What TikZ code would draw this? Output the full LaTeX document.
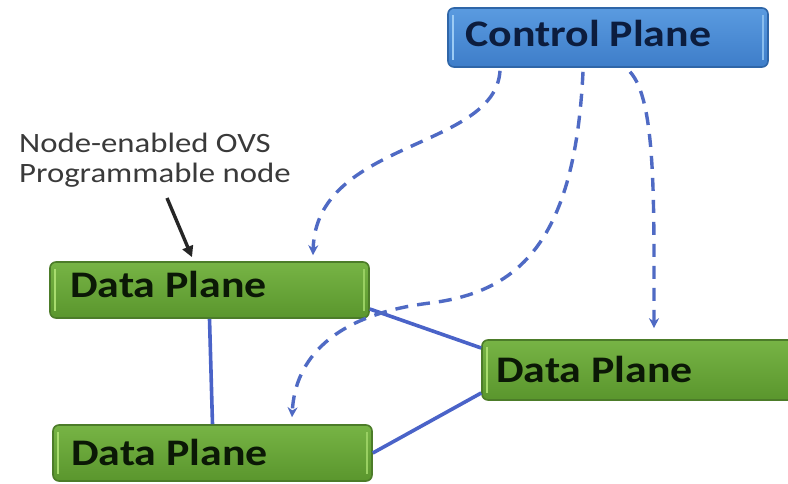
\documentclass[tikz,border=0pt]{standalone}
\usepackage{graphicx}
\usepackage{fontspec}
\setmainfont{Carlito}
\usetikzlibrary{arrows.meta,calc}

\definecolor{dptop}{HTML}{77B445}
\definecolor{dpbot}{HTML}{5A962D}
\definecolor{dpedge}{HTML}{4C7C29}
\definecolor{dphl}{HTML}{A8DC6E}
\definecolor{cptop}{HTML}{5A9BE0}
\definecolor{cpbot}{HTML}{3E7DC9}
\definecolor{cpedge}{HTML}{2F66A8}
\definecolor{cphl}{HTML}{9CCBF4}
\definecolor{cptext}{HTML}{0C1D3E}
\definecolor{dptext}{HTML}{0B1806}
\definecolor{ctrlline}{HTML}{4F6AC4}
\definecolor{linkline}{HTML}{4A63C8}
\definecolor{notetext}{HTML}{3A3A3A}

\newcommand\widetxt[1]{\scalebox{1.17}[1]{#1}}

\tikzset{
  planebox/.style={rounded corners=6pt, line width=1.6pt, inner sep=0pt},
  dpbox/.style={planebox, draw=dpedge, top color=dptop, bottom color=dpbot,
    path picture={
      \draw[line width=2.5pt, dphl]
        ([xshift=5pt,yshift=-7pt]path picture bounding box.north west) --
        ([xshift=5pt,yshift=7pt]path picture bounding box.south west);
      \draw[line width=2.5pt, dphl!70!dptop]
        ([xshift=-5pt,yshift=-7pt]path picture bounding box.north east) --
        ([xshift=-5pt,yshift=7pt]path picture bounding box.south east);
    }},
  cpbox/.style={planebox, draw=cpedge, top color=cptop, bottom color=cpbot,
    path picture={
      \draw[line width=2.5pt, cphl]
        ([xshift=5pt,yshift=-7pt]path picture bounding box.north west) --
        ([xshift=5pt,yshift=7pt]path picture bounding box.south west);
      \draw[line width=2.5pt, cphl!70!cptop]
        ([xshift=-5pt,yshift=-7pt]path picture bounding box.north east) --
        ([xshift=-5pt,yshift=7pt]path picture bounding box.south east);
    }},
  planetitle/.style={font=\fontsize{37.5}{44}\selectfont\bfseries, inner sep=0pt, anchor=base west},
  notestyle/.style={font=\fontsize{28}{34}\selectfont, text=notetext, inner sep=0pt, anchor=base west},
  ctrl/.style={draw=ctrlline, line width=3.4pt, dash pattern=on 13pt off 9pt,
    -{Stealth[length=10pt, width=10pt]}},
  link/.style={draw=linkline, line width=3.6pt},
  pointer/.style={draw=black!85, line width=3.4pt, -{Triangle[length=11pt, width=11pt]}}
}

\begin{document}
\begin{tikzpicture}[x=1pt, y=-1pt]
  \useasboundingbox (0,0) rectangle (788,484);
  \clip (0,0) rectangle (788,484);
  \fill[white] (0,0) rectangle (788,484);

  % plane boxes
  \node[cpbox, minimum width=320pt, minimum height=59pt] (cp) at (608,37.5) {};
  \node[dpbox, minimum width=319pt, minimum height=56pt] (dp1) at (209.5,290) {};
  \node[dpbox, minimum width=319pt, minimum height=56pt] (dp2) at (212.5,453) {};
  \node[dpbox, minimum width=330pt, minimum height=60pt] (dp3) at (647,370) {};

  % box titles
  \node[planetitle, text=cptext] (cpt) at (465,47) {\widetxt{Control Plane}};
  \node[planetitle, text=dptext] (dp1t) at (70,298) {\widetxt{Data Plane}};
  \node[planetitle, text=dptext] (dp2t) at (71,465) {\widetxt{Data Plane}};
  \node[planetitle, text=dptext] (dp3t) at (496,382) {\widetxt{Data Plane}};

  % annotation
  \node[notestyle] (note1) at (19,153) {\widetxt{Node-enabled OVS}};
  \node[notestyle] (note2) at (19,183) {\widetxt{Programmable node}};
  \draw[pointer] ([xshift=148pt,yshift=-10pt]note2.south west) -- ([xshift=-17.5pt,yshift=4pt]dp1.north);

  % data plane links
  \draw[link] (dp1.south) -- (dp2.north);
  \draw[link] ([yshift=-19pt]dp1.east) -- ([yshift=22pt]dp3.west);
  \draw[link] (dp2.east) -- ([yshift=-23pt]dp3.west);

  % control channels
  \draw[ctrl] ([xshift=-108pt,yshift=-3pt]cp.south)
    .. controls (495,150) and (316,140) .. ([xshift=103.5pt,yshift=6pt]dp1.north);
  \draw[ctrl] ([xshift=-25pt,yshift=-4pt]cp.south)
    .. controls (575,240) and (520,292) .. (430,303)
    .. controls (332,315) and (295,360) .. ([xshift=79.5pt,yshift=7pt]dp2.north);
  \draw[ctrl] ([xshift=22pt,yshift=-4pt]cp.south)
    .. controls (656,100) and (654,200) .. ([xshift=7pt,yshift=11pt]dp3.north);
\end{tikzpicture}
\end{document}
